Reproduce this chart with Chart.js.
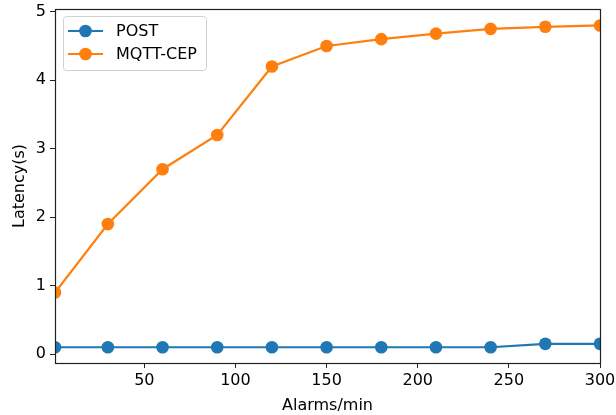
<!DOCTYPE html>
<html>
<head>
<meta charset="utf-8">
<script src="https://cdn.jsdelivr.net/npm/chart.js@4.4.0/dist/chart.umd.min.js"></script>
<style>
  html, body { margin: 0; padding: 0; background: #fff; }
  #wrap { width: 616px; height: 415px; }
</style>
</head>
<body>
<div id="wrap"><canvas id="chart" width="616" height="415"></canvas></div>
<script>
const alarms = [1, 30, 60, 90, 120, 150, 180, 210, 240, 270, 300];
const postLatency = [0.1, 0.1, 0.1, 0.1, 0.1, 0.1, 0.1, 0.1, 0.1, 0.15, 0.15];
const mqttLatency = [0.9, 1.9, 2.7, 3.2, 4.2, 4.5, 4.6, 4.68, 4.75, 4.78, 4.8];
const xTicks = [50, 100, 150, 200, 250, 300];
const yTicks = [0, 1, 2, 3, 4, 5];
const seriesNames = ['POST', 'MQTT-CEP'];

const blue = '#1f77b4';
const orange = '#ff7f0e';
const font = { family: 'DejaVu Sans', size: 16 };

function points(ys) {
  return alarms.map((x, i) => ({ x, y: ys[i] }));
}

// matplotlib style frame + legend box
const mplLook = {
  id: 'mplLook',
  afterDraw(chart) {
    const ctx = chart.ctx;
    const a = chart.chartArea;
    ctx.save();
    ctx.strokeStyle = '#222';
    ctx.lineWidth = 1.2;
    ctx.strokeRect(Math.round(a.left) + 0.5, Math.round(a.top) + 0.5, Math.round(a.width), Math.round(a.height));

    const bx = a.left + 8, by = a.top + 7, bw = 143, bh = 54;
    ctx.fillStyle = 'rgba(255,255,255,0.8)';
    ctx.strokeStyle = '#d0d0d0';
    ctx.lineWidth = 1;
    ctx.beginPath();
    ctx.roundRect(bx + 0.5, by + 0.5, bw, bh, 3);
    ctx.fill();
    ctx.stroke();

    const colors = [blue, orange];
    ctx.font = '16px "DejaVu Sans"';
    ctx.textBaseline = 'middle';
    seriesNames.forEach((name, i) => {
      const y = by + 15 + i * 23;
      ctx.strokeStyle = colors[i];
      ctx.lineWidth = 2.2;
      ctx.beginPath();
      ctx.moveTo(bx + 5, y);
      ctx.lineTo(bx + 40, y);
      ctx.stroke();
      ctx.fillStyle = colors[i];
      ctx.beginPath();
      ctx.arc(bx + 22.5, y, 6.3, 0, Math.PI * 2);
      ctx.fill();
      ctx.fillStyle = '#000';
      ctx.fillText(name, bx + 53, y + 1);
    });
    ctx.restore();
  }
};

new Chart(document.getElementById('chart').getContext('2d'), {
  type: 'line',
  data: {
    datasets: [
      {
        label: seriesNames[0],
        data: points(postLatency),
        borderColor: blue,
        backgroundColor: blue,
        borderWidth: 2.2,
        pointRadius: 6.3,
        pointBorderWidth: 0,
        tension: 0,
        clip: 0,
      },
      {
        label: seriesNames[1],
        data: points(mqttLatency),
        borderColor: orange,
        backgroundColor: orange,
        borderWidth: 2.2,
        pointRadius: 6.3,
        pointBorderWidth: 0,
        tension: 0,
        clip: 0,
      },
    ],
  },
  options: {
    responsive: false,
    animation: false,
    layout: { padding: { top: 9, right: 16, left: 0, bottom: 0 } },
    scales: {
      x: {
        type: 'linear',
        min: 1,
        max: 300,
        afterBuildTicks: (s) => { s.ticks = xTicks.map((v) => ({ value: v })); },
        afterFit: (s) => { s.height = 52; s.paddingLeft = 0; s.paddingRight = 0; },
        grid: { drawOnChartArea: false, drawTicks: true, tickLength: 5, color: '#222' },
        border: { display: false },
        ticks: { color: '#000', font, padding: 3, maxRotation: 0 },
        title: { display: true, text: 'Alarms/min', color: '#000', font, padding: { top: 0, bottom: 0 } },
      },
      y: {
        type: 'linear',
        min: -0.13,
        max: 5.04,
        afterBuildTicks: (s) => { s.ticks = yTicks.map((v) => ({ value: v })); },
        afterFit: (s) => { s.width = 55; s.paddingTop = 0; s.paddingBottom = 0; },
        grid: { drawOnChartArea: false, drawTicks: true, tickLength: 5, color: '#222' },
        border: { display: false },
        ticks: { color: '#000', font, padding: 4 },
        title: { display: true, text: 'Latency(s)', color: '#000', font, padding: { top: 10, bottom: 0 } },
      },
    },
    plugins: {
      legend: { display: false },
      tooltip: { enabled: false },
    },
  },
  plugins: [mplLook],
});
</script>
</body>
</html>
